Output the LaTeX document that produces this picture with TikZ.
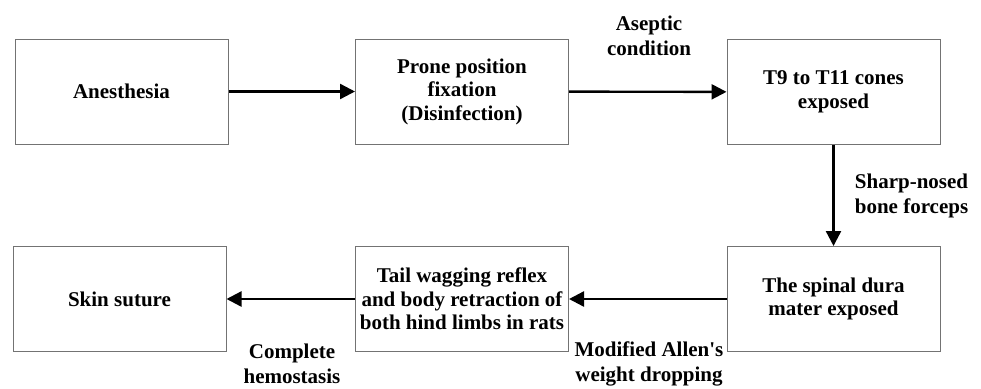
\documentclass[tikz,border=0pt]{standalone}
\usepackage{fontspec}
\setmainfont{Liberation Serif}[Ligatures=TeXOff]
\usetikzlibrary{arrows.meta}
\begin{document}
\begin{tikzpicture}[x=1pt,y=-1pt,
  stepbox/.style={draw=black!55,line width=1pt,minimum width=213pt,minimum height=105pt,inner sep=0pt,align=center,font=\fontsize{21}{23.5}\selectfont\bfseries},
  lbl/.style={align=center,inner sep=0pt,font=\fontsize{21}{25}\selectfont\bfseries},
  arr/.style={line width=2.4pt,-{Triangle[length=15pt,width=15pt]}}]
\useasboundingbox (0,0) rectangle (981,388);
\node[stepbox] (a) at (121.5,91.5) {Anesthesia};
\node[stepbox] (b) at (462,91.5) {Prone position\\fixation\\(Disinfection)};
\node[stepbox] (c) at (833.5,92) {T9 to T11 cones\\exposed};
\node[stepbox] (d) at (833.5,299) {The spinal dura\\mater exposed};
\node[stepbox] (e) at (462,299) {Tail wagging reflex\\and body retraction of\\both hind limbs in rats};
\node[stepbox] (f) at (119.5,299) {Skin suture};
\draw[arr] (a) -- (b);
\draw[arr] (b) -- (c);
\draw[arr] (c) -- (d);
\draw[arr] (d) -- (e);
\draw[arr] (e) -- (f);
\node[lbl] (l1) at (649,36) {Aseptic\\condition};
\node[lbl] (l2) at (911.5,196) {Sharp-nosed\\bone forceps};
\node[lbl] (l3) at (649,364) {Modified Allen's\\weight dropping};
\node[lbl] (l4) at (292,364) {Complete\\hemostasis};
\end{tikzpicture}
\end{document}
